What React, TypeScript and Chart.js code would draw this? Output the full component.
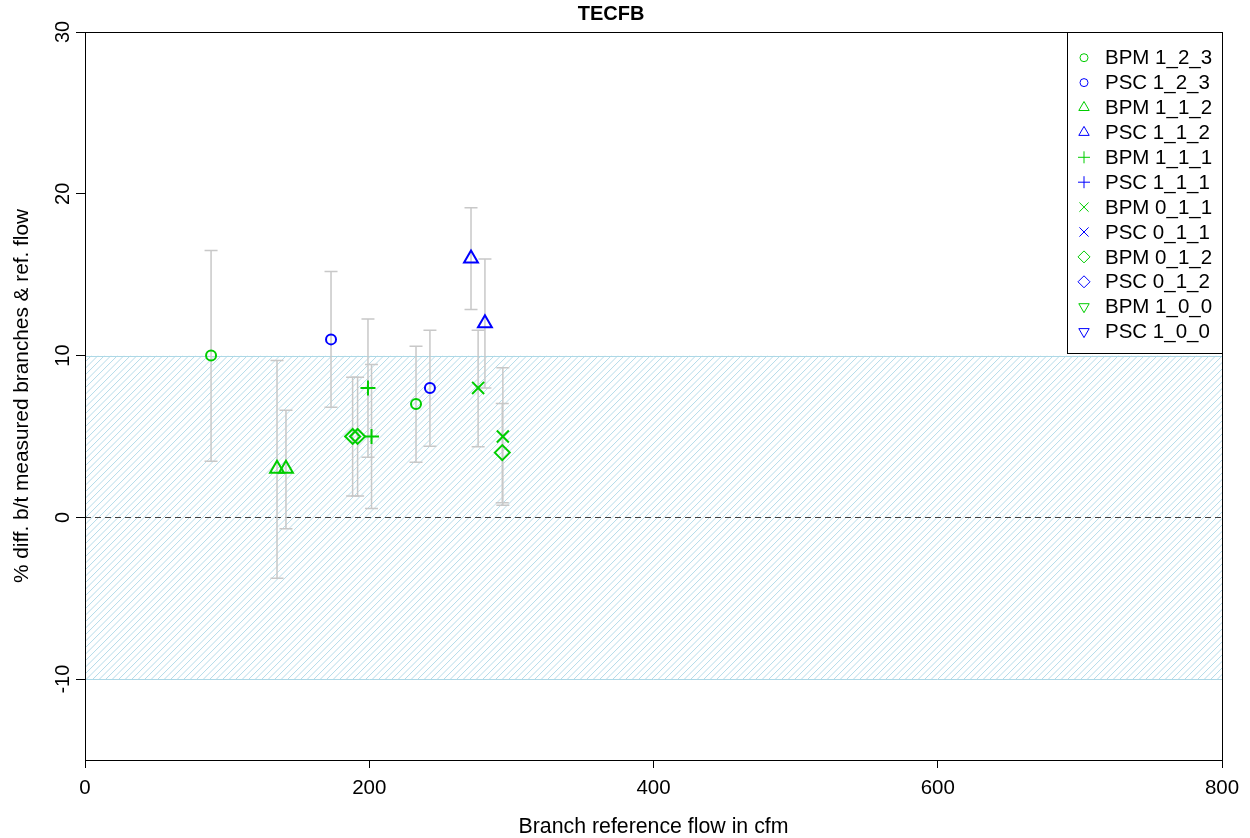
import React, { useEffect, useRef } from 'react';
import { Chart, registerables } from 'chart.js';

Chart.register(...registerables);

const FONT = '"Liberation Sans", Arial, Helvetica, sans-serif';
const GREEN = '#00CD00';
const BLUE = '#0000FF';
const BAND = '#ADD8E6';
const ERR = '#C8C8C8';

// Axis ticks
const xTicks = [0, 200, 400, 600, 800];
const yTicks = [-10, 0, 10, 20, 30];
const yTickLabels = ['-10', '0', '10', '20', '30'];

// Branch reference flow (cfm), % difference and error-bar limits, per series
const bpm123Flow = [88.7, 232.9];
const bpm123Diff = [10, 7];
const bpm123Low = [3.46, 3.4];
const bpm123High = [16.5, 10.57];

const psc123Flow = [173.1, 242.7];
const psc123Diff = [11, 8];
const psc123Low = [6.8, 4.4];
const psc123High = [15.2, 11.56];

const bpm112Flow = [135.1, 141.4];
const bpm112Diff = [3, 3];
const bpm112Low = [-3.77, -0.7];
const bpm112High = [9.7, 6.62];

const psc112Flow = [271.6, 281.4];
const psc112Diff = [16, 12];
const psc112Low = [12.84, 8.0];
const psc112High = [19.14, 15.97];

const bpm111Flow = [199.1, 201.6];
const bpm111Diff = [8, 5];
const bpm111Low = [3.72, 0.55];
const bpm111High = [12.26, 9.44];

const bpm011Flow = [276.6, 294.0];
const bpm011Diff = [8, 5];
const bpm011Low = [4.36, 0.74];
const bpm011High = [11.56, 9.24];

const bpm012Flow = [188.3, 191.8, 293.6];
const bpm012Diff = [5, 5, 4];
const bpm012Low = [1.32, 1.32, 0.9];
const bpm012High = [8.66, 8.66, 7.04];

const empty: number[] = [];

type Marker = 'circle' | 'triangle' | 'cross' | 'crossRot' | 'rectRot' | 'triangleDown';

interface Series {
  label: string;
  color: string;
  marker: Marker;
  flow: number[];
  diff: number[];
  low: number[];
  high: number[];
}

const series: Series[] = [
  { label: 'BPM 1_2_3', color: GREEN, marker: 'circle', flow: bpm123Flow, diff: bpm123Diff, low: bpm123Low, high: bpm123High },
  { label: 'PSC 1_2_3', color: BLUE, marker: 'circle', flow: psc123Flow, diff: psc123Diff, low: psc123Low, high: psc123High },
  { label: 'BPM 1_1_2', color: GREEN, marker: 'triangle', flow: bpm112Flow, diff: bpm112Diff, low: bpm112Low, high: bpm112High },
  { label: 'PSC 1_1_2', color: BLUE, marker: 'triangle', flow: psc112Flow, diff: psc112Diff, low: psc112Low, high: psc112High },
  { label: 'BPM 1_1_1', color: GREEN, marker: 'cross', flow: bpm111Flow, diff: bpm111Diff, low: bpm111Low, high: bpm111High },
  { label: 'PSC 1_1_1', color: BLUE, marker: 'cross', flow: empty, diff: empty, low: empty, high: empty },
  { label: 'BPM 0_1_1', color: GREEN, marker: 'crossRot', flow: bpm011Flow, diff: bpm011Diff, low: bpm011Low, high: bpm011High },
  { label: 'PSC 0_1_1', color: BLUE, marker: 'crossRot', flow: empty, diff: empty, low: empty, high: empty },
  { label: 'BPM 0_1_2', color: GREEN, marker: 'rectRot', flow: bpm012Flow, diff: bpm012Diff, low: bpm012Low, high: bpm012High },
  { label: 'PSC 0_1_2', color: BLUE, marker: 'rectRot', flow: empty, diff: empty, low: empty, high: empty },
  { label: 'BPM 1_0_0', color: GREEN, marker: 'triangleDown', flow: empty, diff: empty, low: empty, high: empty },
  { label: 'PSC 1_0_0', color: BLUE, marker: 'triangleDown', flow: empty, diff: empty, low: empty, high: empty },
];

const pointRadius: Record<Marker, number> = {
  circle: 5,
  triangle: 8,
  cross: 7.5,
  crossRot: 8.5,
  rectRot: 7.5,
  triangleDown: 8,
};

// Small outline symbol used by the legend
function drawMarker(ctx: CanvasRenderingContext2D, marker: Marker, x: number, y: number, r: number) {
  ctx.beginPath();
  if (marker === 'circle') {
    ctx.arc(x, y, r, 0, Math.PI * 2);
  } else if (marker === 'triangle' || marker === 'triangleDown') {
    let a = marker === 'triangle' ? 0 : Math.PI;
    for (let i = 0; i < 3; i++) {
      const px = x + Math.sin(a) * r;
      const py = y - Math.cos(a) * r;
      if (i === 0) ctx.moveTo(px, py);
      else ctx.lineTo(px, py);
      a += (2 * Math.PI) / 3;
    }
    ctx.closePath();
  } else if (marker === 'cross') {
    ctx.moveTo(x - r, y);
    ctx.lineTo(x + r, y);
    ctx.moveTo(x, y - r);
    ctx.lineTo(x, y + r);
  } else if (marker === 'crossRot') {
    const d = r * Math.SQRT1_2;
    ctx.moveTo(x - d, y - d);
    ctx.lineTo(x + d, y + d);
    ctx.moveTo(x - d, y + d);
    ctx.lineTo(x + d, y - d);
  } else {
    ctx.moveTo(x, y - r);
    ctx.lineTo(x + r, y);
    ctx.lineTo(x, y + r);
    ctx.lineTo(x - r, y);
    ctx.closePath();
  }
  ctx.stroke();
}

const backdropPlugin = {
  id: 'backdrop',
  beforeDatasetsDraw(chart: any) {
    const { ctx, chartArea } = chart;
    const xs = chart.scales.x;
    const ys = chart.scales.y;
    const { left, right } = chartArea;
    const top = ys.getPixelForValue(10);
    const bot = ys.getPixelForValue(-10);

    // hatched +/-10 % band
    ctx.save();
    ctx.beginPath();
    ctx.rect(left, top, right - left, bot - top);
    ctx.clip();
    ctx.strokeStyle = BAND;
    ctx.lineWidth = 0.9;
    const h = bot - top;
    ctx.beginPath();
    for (let x0 = left - h; x0 < right + 2; x0 += 6.5) {
      ctx.moveTo(x0, bot);
      ctx.lineTo(x0 + h, top);
    }
    ctx.stroke();
    ctx.restore();

    ctx.save();
    ctx.strokeStyle = BAND;
    ctx.lineWidth = 1;
    ctx.beginPath();
    ctx.moveTo(left, Math.round(top) + 0.5);
    ctx.lineTo(right, Math.round(top) + 0.5);
    ctx.moveTo(left, Math.round(bot) + 0.5);
    ctx.lineTo(right, Math.round(bot) + 0.5);
    ctx.stroke();

    // zero reference line
    const y0 = Math.round(ys.getPixelForValue(0)) + 0.5;
    ctx.strokeStyle = '#404040';
    ctx.setLineDash([6, 4]);
    ctx.beginPath();
    ctx.moveTo(left, y0);
    ctx.lineTo(right, y0);
    ctx.stroke();
    ctx.setLineDash([]);

    // error bars
    ctx.strokeStyle = ERR;
    ctx.lineWidth = 1.5;
    const cap = 6.5;
    series.forEach((s) => {
      s.flow.forEach((f, i) => {
        const px = xs.getPixelForValue(f);
        const lo = ys.getPixelForValue(s.low[i]);
        const hi = ys.getPixelForValue(s.high[i]);
        ctx.beginPath();
        ctx.moveTo(px, lo);
        ctx.lineTo(px, hi);
        ctx.moveTo(px - cap, lo);
        ctx.lineTo(px + cap, lo);
        ctx.moveTo(px - cap, hi);
        ctx.lineTo(px + cap, hi);
        ctx.stroke();
      });
    });
    ctx.restore();
  },
  afterDraw(chart: any) {
    const { ctx, chartArea } = chart;
    const ys = chart.scales.y;
    const { left, right, top, bottom } = chartArea;

    // plot frame
    ctx.save();
    ctx.strokeStyle = '#000';
    ctx.lineWidth = 1;
    const fl = Math.round(left) + 0.5;
    const fr = Math.round(right) + 0.5;
    const ft = Math.round(top) + 0.5;
    const fb = Math.round(bottom) + 0.5;
    ctx.strokeRect(fl, ft, fr - fl, fb - ft);

    // rotated y tick labels
    ctx.fillStyle = '#000';
    ctx.font = `20px ${FONT}`;
    ctx.textAlign = 'center';
    ctx.textBaseline = 'alphabetic';
    yTicks.forEach((v, i) => {
      const py = ys.getPixelForValue(v);
      ctx.save();
      ctx.translate(69, py);
      ctx.rotate(-Math.PI / 2);
      ctx.fillText(yTickLabels[i], 0, 0);
      ctx.restore();
    });

    // legend
    const boxL = 1067.5;
    const boxB = 353.5;
    ctx.fillStyle = '#fff';
    ctx.fillRect(boxL, ft, fr - boxL, boxB - ft);
    ctx.strokeStyle = '#000';
    ctx.strokeRect(boxL, ft, fr - boxL, boxB - ft);
    ctx.textAlign = 'left';
    ctx.textBaseline = 'middle';
    ctx.font = `20.5px ${FONT}`;
    series.forEach((s, i) => {
      const cy = 57.7 + i * 24.9;
      ctx.strokeStyle = s.color;
      ctx.lineWidth = 1;
      const r = s.marker === 'circle' ? 4 : s.marker === 'crossRot' ? 6.5 : 6;
      drawMarker(ctx, s.marker, 1084, cy, r);
      ctx.fillStyle = '#000';
      ctx.fillText(s.label, 1105, cy + 1);
    });
    ctx.restore();
  },
};

export default function App() {
  const canvasRef = useRef<HTMLCanvasElement | null>(null);

  useEffect(() => {
    if (!canvasRef.current) return;
    Chart.defaults.font.family = FONT;
    Chart.defaults.color = '#000';

    const datasets = series.map((s) => ({
      label: s.label,
      data: s.flow.map((f, i) => ({ x: f, y: s.diff[i] })),
      pointStyle: s.marker === 'triangleDown' ? 'triangle' : s.marker,
      rotation: s.marker === 'triangleDown' ? 180 : 0,
      pointRadius: pointRadius[s.marker],
      pointHoverRadius: pointRadius[s.marker],
      pointBorderWidth: 2,
      pointBorderColor: s.color,
      pointBackgroundColor: 'rgba(0,0,0,0)',
      showLine: false,
    }));

    const chart = new Chart(canvasRef.current, {
      type: 'scatter',
      data: { datasets: datasets as any },
      options: {
        responsive: false,
        animation: false,
        events: [],
        layout: { padding: { left: 0, right: 28, top: 0, bottom: 0 } },
        plugins: {
          legend: { display: false },
          tooltip: { enabled: false },
          title: {
            display: true,
            text: 'TECFB',
            color: '#000',
            font: { size: 20, weight: 'bold', family: FONT, lineHeight: 1.2 },
            padding: { top: 2, bottom: 6 },
          },
        },
        scales: {
          x: {
            type: 'linear',
            min: 0,
            max: 800,
            afterBuildTicks: (scale: any) => {
              scale.ticks = xTicks.map((v) => ({ value: v }));
            },
            afterFit: (scale: any) => {
              scale.height = 78;
            },
            ticks: {
              color: '#000',
              font: { size: 20.5, family: FONT, lineHeight: 1.2 },
              padding: 8,
              maxRotation: 0,
              minRotation: 0,
            },
            grid: {
              drawOnChartArea: false,
              drawTicks: true,
              tickLength: 8,
              color: '#000',
              lineWidth: 1,
            },
            border: { display: false },
            title: {
              display: true,
              text: 'Branch reference flow in cfm',
              color: '#000',
              font: { size: 21.3, family: FONT, lineHeight: 1 },
              padding: { top: 0, bottom: 0 },
            },
          },
          y: {
            type: 'linear',
            min: -15,
            max: 30,
            afterBuildTicks: (scale: any) => {
              scale.ticks = yTicks.map((v) => ({ value: v }));
            },
            afterFit: (scale: any) => {
              scale.width = 85;
            },
            ticks: { display: false },
            grid: {
              drawOnChartArea: false,
              drawTicks: true,
              tickLength: 9,
              color: '#000',
              lineWidth: 1,
            },
            border: { display: false },
            title: {
              display: true,
              text: '% diff. b/t measured branches & ref. flow',
              color: '#000',
              font: { size: 20.8, family: FONT, lineHeight: 1 },
              padding: { top: 12, bottom: 0 },
            },
          },
        },
      },
      plugins: [backdropPlugin],
    });

    return () => {
      chart.destroy();
    };
  }, []);

  return (
    <div style={{ position: 'absolute', left: 0, top: 0, width: 1250, height: 838, background: '#fff' }}>
      <canvas ref={canvasRef} width={1250} height={838} />
    </div>
  );
}
